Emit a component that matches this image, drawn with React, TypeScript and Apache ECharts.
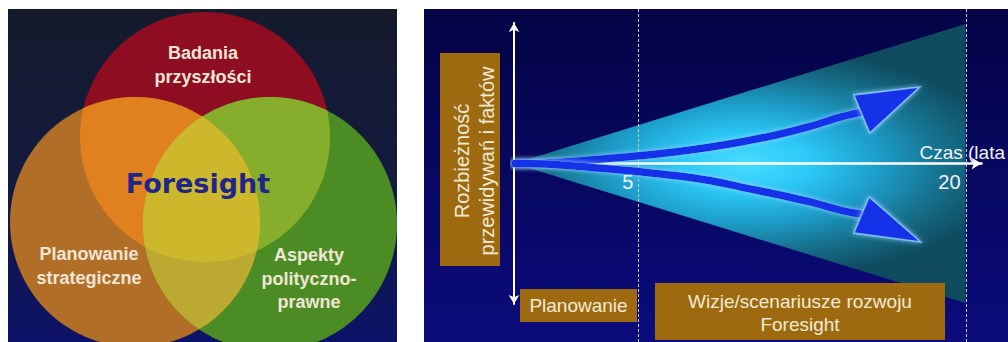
import React, { useEffect, useRef } from 'react';
import * as echarts from 'echarts';

// ---- Venn diagram texts ----
const vennTopLabel = ['Badania', 'przyszłości'];
const vennLeftLabel = ['Planowanie', 'strategiczne'];
const vennRightLabel = ['Aspekty', 'polityczno-', 'prawne'];
const vennCenterLabel = 'Foresight';

// ---- Divergence cone texts ----
const timeAxisName = 'Czas (lata';
const divergenceLabel = ['Rozbieżność', 'przewidywań i faktów'];
const planningLabel = 'Planowanie';
const visionLabel = ['Wizje/scenariusze rozwoju', 'Foresight'];

// planning horizons on the time axis (years)
const horizonYears = [5, 20];

// cone of divergence: [year, spread]
const coneApex = [-0.68, 0];
const coneMouth = [20, 0.993];
const coneGlowYear = 9.9;

// scenario paths: [year, divergence]
const upperScenario = [
  [-0.65, 0], [0.72, 0.004], [2.18, 0.0175], [3.69, 0.037], [5.06, 0.055], [6.75, 0.084],
  [8.26, 0.116], [9.76, 0.155], [11.32, 0.203], [12.83, 0.262], [14.33, 0.333], [15.25, 0.366],
];
const lowerScenario = [
  [-0.65, 0], [0.72, -0.004], [2.18, -0.019], [3.69, -0.039], [5.06, -0.058], [6.75, -0.087],
  [8.26, -0.121], [9.76, -0.17], [11.32, -0.219], [12.83, -0.272], [14.33, -0.335], [15.23, -0.361],
];
// arrow heads: tip, then the two base corners
const upperHead = [[17.9, 0.544], [14.88, 0.488], [15.61, 0.217]];
const lowerHead = [[17.95, -0.559], [15.58, -0.238], [14.88, -0.495]];

type Pt = [number, number];

const FONT = '"Liberation Sans", Arial, sans-serif';

// ---- geometry helpers for the Venn regions ----
function circlePoints(cx: number, cy: number, r: number, n = 240): Pt[] {
  const pts: Pt[] = [];
  for (let i = 0; i < n; i++) {
    const a = (i / n) * Math.PI * 2;
    pts.push([cx + r * Math.cos(a), cy + r * Math.sin(a)]);
  }
  return pts;
}

function signedArea(poly: Pt[]): number {
  let s = 0;
  for (let i = 0; i < poly.length; i++) {
    const p = poly[i];
    const q = poly[(i + 1) % poly.length];
    s += p[0] * q[1] - q[0] * p[1];
  }
  return s / 2;
}

function segIntersect(p1: Pt, p2: Pt, a: Pt, b: Pt): Pt {
  const [x1, y1] = p1;
  const [x2, y2] = p2;
  const [x3, y3] = a;
  const [x4, y4] = b;
  const den = (x1 - x2) * (y3 - y4) - (y1 - y2) * (x3 - x4);
  const t = ((x1 - x3) * (y3 - y4) - (y1 - y3) * (x3 - x4)) / den;
  return [x1 + t * (x2 - x1), y1 + t * (y2 - y1)];
}

// Sutherland–Hodgman clipping against a convex polygon
function clipPoly(subject: Pt[], clipper: Pt[]): Pt[] {
  const s = Math.sign(signedArea(clipper)) || 1;
  let out = subject;
  for (let i = 0; i < clipper.length; i++) {
    const a = clipper[i];
    const b = clipper[(i + 1) % clipper.length];
    const input = out;
    out = [];
    if (!input.length) break;
    const inside = (p: Pt) =>
      s * ((b[0] - a[0]) * (p[1] - a[1]) - (b[1] - a[1]) * (p[0] - a[0])) >= 0;
    for (let j = 0; j < input.length; j++) {
      const cur = input[j];
      const prev = input[(j + input.length - 1) % input.length];
      const ci = inside(cur);
      const pi = inside(prev);
      if (ci) {
        if (!pi) out.push(segIntersect(prev, cur, a, b));
        out.push(cur);
      } else if (pi) {
        out.push(segIntersect(prev, cur, a, b));
      }
    }
  }
  return out;
}

function buildVenn(): any[] {
  const panel: Pt[] = [[8, 9], [397, 9], [397, 342], [8, 342]];
  const red = clipPoly(circlePoints(205, 137, 125), panel);
  const left = clipPoly(circlePoints(135, 222, 125), panel);
  const green = clipPoly(circlePoints(270, 224, 127), panel);
  const rl = clipPoly(red, left);
  const rg = clipPoly(red, green);
  const lg = clipPoly(left, green);
  const rlg = clipPoly(rl, green);
  const poly = (points: Pt[], fill: string, z: number) => ({
    type: 'polygon',
    z,
    silent: true,
    shape: { points },
    style: { fill },
  });
  const label = (lines: string[], x: number, y: number, lh: number) => ({
    type: 'text',
    z: 5,
    x,
    y,
    silent: true,
    style: {
      text: lines.join('\n'),
      fill: '#f1e6d5',
      fontSize: 18,
      fontWeight: 'bold',
      fontFamily: FONT,
      lineHeight: lh,
      align: 'center',
      verticalAlign: 'middle',
      textAlign: 'center',
      textVerticalAlign: 'middle',
    },
  });
  return [
    {
      type: 'rect',
      z: -1,
      silent: true,
      shape: { x: 8, y: 9, width: 389, height: 333 },
      style: {
        fill: new echarts.graphic.LinearGradient(0, 0, 0, 1, [
          { offset: 0, color: '#151b2c' },
          { offset: 0.55, color: '#121a40' },
          { offset: 1, color: '#0c1268' },
        ]),
      },
    },
    poly(red, '#8e0d21', 0),
    poly(left, '#b06e27', 0),
    poly(green, '#4b8d24', 0),
    poly(rl, '#e1801f', 1),
    poly(rg, '#86ad2b', 1),
    poly(lg, '#bba931', 1),
    poly(rlg, '#cdb82b', 2),
    label(vennTopLabel, 203, 65, 24),
    label(vennLeftLabel, 89, 266, 24),
    label(vennRightLabel, 309, 278.5, 23.5),
    {
      type: 'text',
      z: 5,
      x: 198,
      y: 183,
      silent: true,
      style: {
        text: vennCenterLabel,
        fill: '#1f2688',
        fontSize: 27,
        fontWeight: 'bold',
        fontFamily: '"DejaVu Sans", Verdana, sans-serif',
        align: 'center',
        verticalAlign: 'middle',
        textAlign: 'center',
        textVerticalAlign: 'middle',
      },
    },
  ];
}

function buildCone(): any[] {
  const boxFill = '#9e6a10';
  const textFill = '#f3ead6';
  const boxText = (text: string, x: number, y: number, lh: number, size = 19, rotation = 0) => ({
    type: 'text',
    z: 11,
    x,
    y,
    rotation,
    silent: true,
    style: {
      text,
      fill: textFill,
      fontSize: size,
      fontFamily: FONT,
      lineHeight: lh,
      align: 'center',
      verticalAlign: 'middle',
      textAlign: 'center',
      textVerticalAlign: 'middle',
    },
  });
  const box = (x: number, y: number, width: number, height: number) => ({
    type: 'rect',
    z: 10,
    silent: true,
    shape: { x, y, width, height },
    style: { fill: boxFill },
  });
  return [
    {
      type: 'rect',
      z: -1,
      silent: true,
      shape: { x: 424, y: 9, width: 584, height: 333 },
      style: {
        fill: new echarts.graphic.LinearGradient(0, 0, 0, 1, [
          { offset: 0, color: '#040446' },
          { offset: 1, color: '#0b0b7c' },
        ]),
      },
    },
    box(440, 53, 60, 213),
    boxText(divergenceLabel.join('\n'), 474, 161, 25, 20, Math.PI / 2),
    box(520, 289, 117, 33),
    boxText(planningLabel, 578.5, 305.5, 22),
    box(655, 283, 290, 57),
    boxText(visionLabel.join('\n'), 800, 313, 23),
  ];
}

function buildOption(): any {
  const glowStops = [
    { offset: 0, color: '#48dcff' },
    { offset: 0.25, color: '#2cc8f6' },
    { offset: 0.5, color: '#1d9ecb' },
    { offset: 0.75, color: '#16718d' },
    { offset: 1, color: '#0f4b5f' },
  ];
  const arrowBlue = '#1733e8';
  const heads = [upperHead, lowerHead];
  const gridTop = 23;
  const gridHeight = 281;

  return {
    animation: false,
    backgroundColor: '#ffffff',
    grid: { left: 514, top: gridTop, width: 469, height: gridHeight },
    xAxis: {
      type: 'value',
      min: -0.7,
      max: 20.73,
      z: 3,
      position: 'bottom',
      // lift the time axis to the middle of the divergence scale
      offset: -gridHeight / 2,
      name: timeAxisName,
      nameLocation: 'end',
      nameGap: -62,
      nameTextStyle: {
        color: '#f2f2ff',
        fontSize: 19,
        fontFamily: FONT,
        align: 'left',
        verticalAlign: 'bottom',
        padding: [0, 0, 2, 0],
      },
      axisLine: {
        show: true,
        onZero: false,
        symbol: ['none', 'arrow'],
        symbolSize: [9, 10],
        lineStyle: { color: '#ffffff', width: 2.5 },
      },
      axisTick: { show: false },
      splitLine: { show: false },
      axisLabel: {
        customValues: horizonYears,
        color: '#f2f2ff',
        fontSize: 20,
        fontFamily: FONT,
        align: 'right',
        padding: [0, 5, 0, 0],
        margin: 8,
      },
    },
    yAxis: {
      type: 'value',
      min: -1,
      max: 1,
      z: 3,
      axisLine: {
        show: true,
        onZero: false,
        symbol: ['arrow', 'arrow'],
        symbolSize: [8, 9],
        lineStyle: { color: '#ffffff', width: 2 },
      },
      axisTick: { show: false },
      axisLabel: { show: false },
      splitLine: { show: false },
    },
    series: [
      {
        // cone of growing divergence between forecasts and facts
        type: 'custom',
        name: 'stożek',
        z: 1,
        silent: true,
        clip: false,
        data: [[0, 0]],
        renderItem: (_params: any, api: any) => {
          const a = api.coord(coneApex);
          const top = api.coord([coneMouth[0], coneMouth[1]]);
          const bot = api.coord([coneMouth[0], -coneMouth[1]]);
          const c = api.coord([coneGlowYear, 0]);
          const k = 0.44;
          const local = (p: number[]) => [p[0], (p[1] - c[1]) / k];
          return {
            type: 'polygon',
            y: c[1],
            scaleY: k,
            shape: { points: [local(a), local(top), local(bot)] },
            style: {
              fill: new echarts.graphic.RadialGradient(c[0], 0, 265, glowStops, true),
            },
          };
        },
      },
      {
        // dotted horizon markers
        type: 'custom',
        name: 'horyzont',
        z: 2,
        silent: true,
        clip: false,
        data: horizonYears.map((y) => [y, 0]),
        renderItem: (_params: any, api: any) => {
          const x = Math.round(api.coord([api.value(0), 0])[0]) + 0.5;
          return {
            type: 'line',
            shape: { x1: x, y1: 9, x2: x, y2: 342 },
            style: { stroke: '#c3c8ff', lineWidth: 1, lineDash: [3, 2] },
          };
        },
      },
      ...[upperScenario, lowerScenario].map((path, i) => ({
        type: 'line',
        name: i === 0 ? 'scenariusz A' : 'scenariusz B',
        z: 4,
        silent: true,
        smooth: 0.35,
        symbol: 'none',
        data: path,
        lineStyle: {
          width: 7.5,
          color: arrowBlue,
          cap: 'round',
          shadowBlur: 5,
          shadowColor: 'rgba(150,215,255,0.95)',
        },
      })),
      {
        type: 'custom',
        name: 'groty',
        z: 5,
        silent: true,
        clip: false,
        data: [[0, 0], [1, 0]],
        renderItem: (params: any, api: any) => {
          const head = heads[params.dataIndex];
          return {
            type: 'polygon',
            shape: { points: head.map((p) => api.coord(p)) },
            style: {
              fill: arrowBlue,
              stroke: 'rgba(140,205,255,0.85)',
              lineWidth: 1.5,
              shadowBlur: 5,
              shadowColor: 'rgba(150,215,255,0.9)',
            },
          };
        },
      },
    ],
    graphic: { elements: [...buildVenn(), ...buildCone()] },
  };
}

export default function App() {
  const ref = useRef<HTMLDivElement>(null);
  useEffect(() => {
    const chart = echarts.init(ref.current as HTMLDivElement, null, { renderer: 'svg' });
    chart.setOption(buildOption());
    return () => chart.dispose();
  }, []);
  return (
    <div
      ref={ref}
      style={{ position: 'fixed', left: 0, top: 0, width: 1008, height: 342, background: '#ffffff' }}
    />
  );
}
